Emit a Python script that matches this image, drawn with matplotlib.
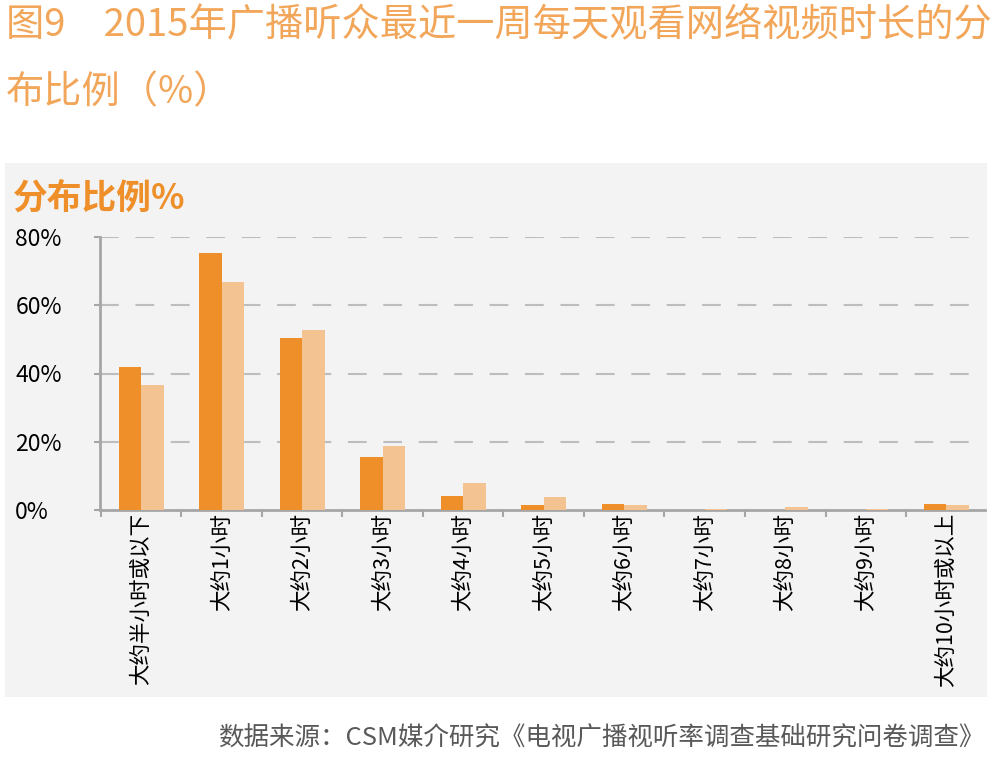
import matplotlib
matplotlib.use("Agg")
import matplotlib.pyplot as plt
from matplotlib.patches import Rectangle
from matplotlib.ticker import FixedLocator
import numpy as np

plt.rcParams['font.family'] = ['Noto Sans CJK SC', 'DejaVu Sans']

# data
categories = ['大约半小时或以下', '大约1小时', '大约2小时', '大约3小时', '大约4小时',
              '大约5小时', '大约6小时', '大约7小时', '大约8小时', '大约9小时',
              '大约10小时或以上']
series_1 = [42.0, 75.4, 50.5, 15.6, 4.2, 1.6, 1.8, 0.0, 0.1, 0.0, 1.8]
series_2 = [36.5, 66.7, 52.7, 18.8, 8.0, 3.7, 1.6, 0.2, 1.0, 0.2, 1.6]
y_ticks = [0, 20, 40, 60, 80]
y_tick_labels = ['0%', '20%', '40%', '60%', '80%']

W, H = 993, 764
fig = plt.figure(figsize=(W / 100, H / 100), dpi=100)
fig.patch.set_facecolor('white')

# grey panel behind the chart
fig.patches.append(Rectangle((5 / W, 1 - 697 / H), 982 / W, 534 / H,
                             transform=fig.transFigure, facecolor='#F3F3F3',
                             edgecolor='none', zorder=-5))

fig.text(6 / W, 1 - 26 / H, '图9\u30002015年广播听众最近一周每天观看网络视频时长的分',
         color='#F2A65A', fontsize=27.5, ha='left', va='center')
fig.text(6 / W, 1 - 93 / H, '布比例（%）',
         color='#F2A65A', fontsize=27.5, ha='left', va='center')
fig.text(13 / W, 1 - 198 / H, '分布比例%', color='#EE8F2A', fontsize=25,
         fontweight='bold', ha='left', va='center')
fig.text(984 / W, 1 - 739 / H,
         '数据来源：CSM媒介研究《电视广播视听率调查基础研究问卷调查》',
         color='#595959', fontsize=18.4, ha='right', va='center')

ax = fig.add_axes([100 / W, 1 - 510 / H, 885 / W, 273 / H])
ax.set_facecolor('none')

x = np.arange(len(categories))
w = 0.28
ax.bar(x - w / 2, series_1, width=w, color='#EE8F2A', zorder=3)
ax.bar(x + w / 2, series_2, width=w, color='#F3C492', zorder=3)

ax.set_xlim(-0.51, len(categories) - 0.52)
ax.set_ylim(0, 80)

ax.set_yticks(y_ticks)
ax.set_yticklabels(y_tick_labels)
for lab in ax.get_yticklabels():
    lab.set_horizontalalignment('left')
ax.tick_params(axis='y', length=4, width=1.5, color='#A6A6A6', pad=57,
               labelsize=16.5, labelcolor='black')

ax.set_xticks(x)
ax.set_xticklabels(categories, rotation=90, va='top', ha='center')
ax.tick_params(axis='x', length=0, pad=2, labelsize=15.5, labelcolor='black')
ax.xaxis.set_minor_locator(FixedLocator(np.arange(-0.5, len(categories), 1.0)))
ax.tick_params(axis='x', which='minor', length=5, width=1.5, color='#A6A6A6')

for yv in y_ticks[1:]:
    ax.axhline(yv, color='#BDBDBD', lw=1.5, ls=(0, (9, 8)), zorder=1)

for s in ['top', 'right']:
    ax.spines[s].set_visible(False)
for s in ['left', 'bottom']:
    ax.spines[s].set_color('#A6A6A6')
    ax.spines[s].set_linewidth(2)

fig.savefig('out.png', dpi=100)
